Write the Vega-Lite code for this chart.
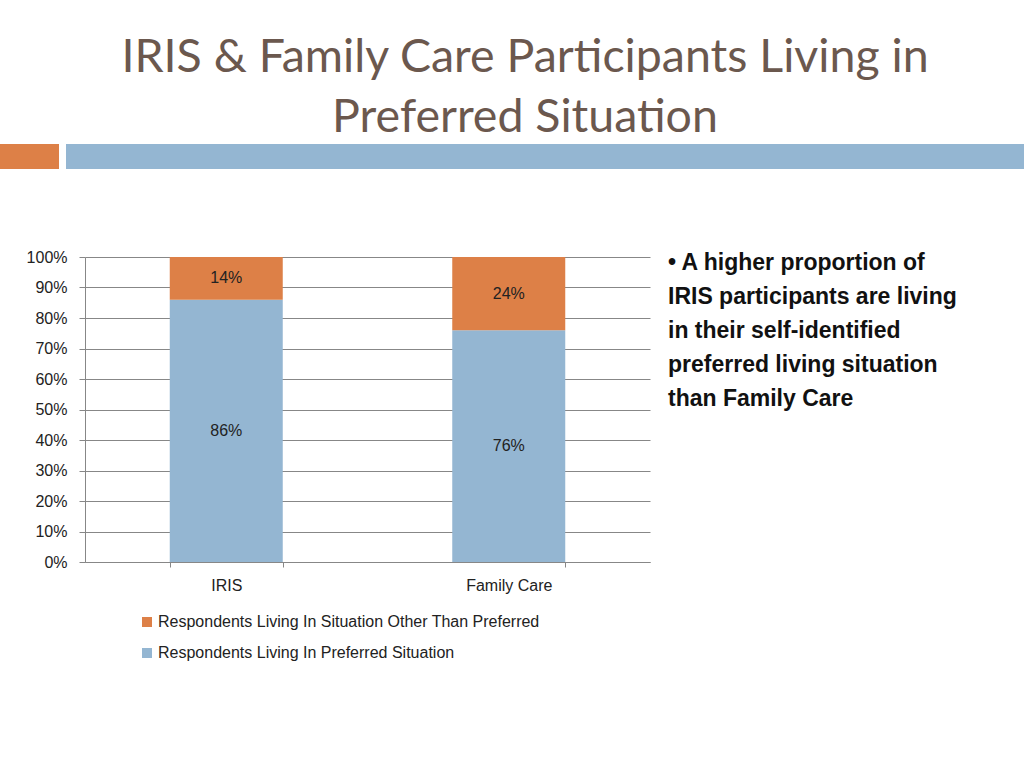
{
  "$schema": "https://vega.github.io/schema/vega-lite/v6.json",
  "background": "white",
  "padding": {"left": 0, "right": 0, "top": 34, "bottom": 0},
  "title": {
    "text": ["IRIS & Family Care Participants Living in", "Preferred Situation"],
    "font": "Lato",
    "fontSize": 46.5,
    "fontWeight": "normal",
    "color": "#6b584e",
    "lineHeight": 60,
    "anchor": "middle",
    "dx": 13,
    "offset": 3
  },
  "config": {
    "view": {"stroke": null}
  },
  "spacing": 80,
  "vconcat": [
    {
      "spacing": 7,
      "hconcat": [
        {
          "width": 59,
          "height": 25,
          "view": {"fill": "#DD8047", "stroke": null},
          "data": {"values": [{"k": 1}]},
          "mark": {"type": "rect", "color": "#DD8047"},
          "encoding": {}
        },
        {
          "width": 958,
          "height": 25,
          "view": {"fill": "#94B6D2", "stroke": null},
          "data": {"values": [{"k": 1}]},
          "mark": {"type": "rect", "color": "#94B6D2"},
          "encoding": {}
        }
      ]
    },
    {
      "spacing": 18,
      "hconcat": [
        {
          "width": 1,
          "height": 10,
          "data": {"values": [{"k": 1}]},
          "mark": {"type": "rect", "opacity": 0},
          "encoding": {}
        },
        {
          "width": 565,
          "height": 305,
          "data": {
            "values": [
              {"program": "IRIS", "series": "Respondents Living In Preferred Situation", "value": 0.86},
              {"program": "IRIS", "series": "Respondents Living In Situation Other Than Preferred", "value": 0.14},
              {"program": "Family Care", "series": "Respondents Living In Preferred Situation", "value": 0.76},
              {"program": "Family Care", "series": "Respondents Living In Situation Other Than Preferred", "value": 0.24}
            ]
          },
          "transform": [
            {"stack": "value", "groupby": ["program"], "as": ["v0", "v1"], "sort": [{"field": "series", "order": "ascending"}]},
            {"calculate": "(datum.v0 + datum.v1) / 2", "as": "mid"}
          ],
          "encoding": {
            "x": {
              "field": "program",
              "type": "nominal",
              "sort": ["IRIS", "Family Care"],
              "scale": {"paddingInner": 0.6, "paddingOuter": 0.3},
              "axis": {
                "title": null,
                "labelAngle": 0,
                "tickBand": "extent",
                "ticks": true,
                "tickSize": 5,
                "tickColor": "#878787",
                "domainColor": "#878787",
                "labelFont": "Liberation Sans",
                "labelFontSize": 16,
                "labelColor": "#222222",
                "labelPadding": 10,
                "grid": false
              }
            },
            "y": {
              "field": "v0",
              "type": "quantitative",
              "scale": {"domain": [0, 1]},
              "axis": {
                "title": null,
                "values": [0, 0.1, 0.2, 0.3, 0.4, 0.5, 0.6, 0.7, 0.8, 0.9, 1],
                "tickCount": 11,
                "format": ".0%",
                "labelOverlap": false,
                "grid": true,
                "gridColor": "#878787",
                "domainColor": "#878787",
                "tickColor": "#878787",
                "tickSize": 6,
                "labelFont": "Liberation Sans",
                "labelFontSize": 16,
                "labelColor": "#222222",
                "labelPadding": 12,
                "minExtent": 66,
                "maxExtent": 66
              }
            }
          },
          "layer": [
            {
              "mark": {"type": "bar"},
              "encoding": {
                "y2": {"field": "v1"},
                "color": {
                  "field": "series",
                  "type": "nominal",
                  "scale": {
                    "domain": ["Respondents Living In Situation Other Than Preferred", "Respondents Living In Preferred Situation"],
                    "range": ["#DD8047", "#94B6D2"]
                  },
                  "legend": {
                    "title": null,
                    "orient": "none",
                    "legendX": 139,
                    "legendY": 470,
                    "direction": "vertical",
                    "symbolType": "square",
                    "symbolSize": 100,
                    "symbolStrokeWidth": 0,
                    "labelFont": "Liberation Sans",
                    "labelFontSize": 16,
                    "labelColor": "#222222",
                    "labelOffset": 3,
                    "rowPadding": 15,
                    "padding": 0,
                    "labelLimit": 600
                  }
                }
              }
            },
            {
              "mark": {"type": "text", "font": "Liberation Sans", "fontSize": 16, "color": "#222222"},
              "encoding": {
                "y": {"field": "mid", "type": "quantitative"},
                "text": {"field": "value", "type": "quantitative", "format": ".0%"}
              }
            }
          ]
        },
        {
          "width": 338,
          "height": 305,
          "data": {"values": [{"k": 1}]},
          "mark": {
            "type": "text",
            "align": "left",
            "baseline": "top",
            "font": "Liberation Sans",
            "fontWeight": "bold",
            "fontSize": 23,
            "lineHeight": 34,
            "color": "#111111",
            "text": ["• A higher proportion of", "IRIS participants are living", "in their self-identified", "preferred living situation", "than Family Care"]
          },
          "encoding": {"x": {"value": 0}, "y": {"value": -5}}
        }
      ]
    }
  ]
}
